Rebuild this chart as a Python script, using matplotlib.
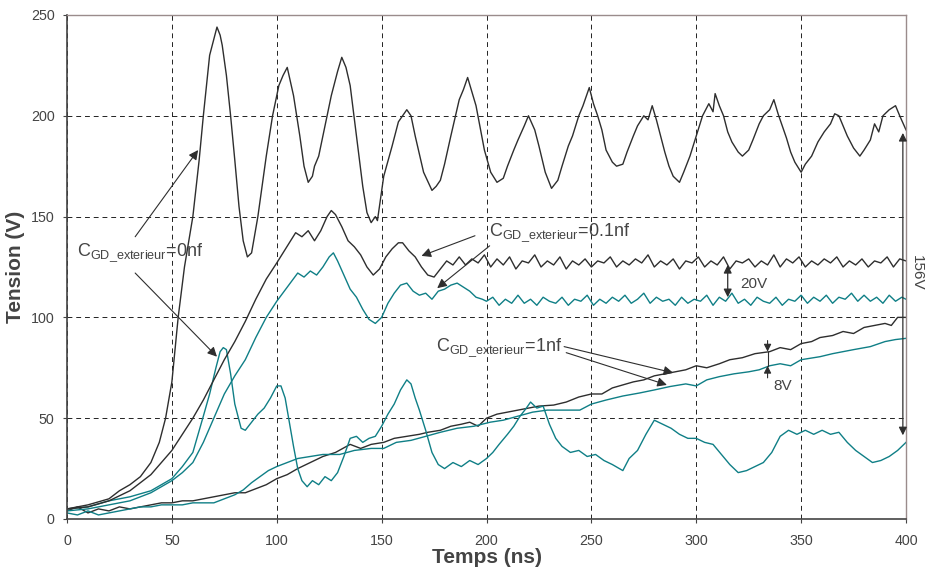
import numpy as np
import matplotlib
matplotlib.use("Agg")
import matplotlib.pyplot as plt

plt.rcParams['font.family'] = ['Liberation Sans', 'DejaVu Sans']
plt.rcParams['mathtext.default'] = 'regular'

# --- data (t in ns, V in volts) ---
black_0nf = [(0, 5), (10, 7), (20, 10), (25, 14), (30, 17), (35, 21), (40, 28), (44, 38), (47, 50),
             (50, 68), (53, 100), (56, 125), (60, 150), (63, 178), (65, 200), (68, 230), (70, 238),
             (71.5, 244), (73, 240), (74, 235), (76, 220), (78, 200), (80, 178), (82, 155), (84, 138),
             (86, 130), (88, 132), (91, 150), (93, 165), (95, 180), (98, 200), (101, 215), (103, 220),
             (105, 224), (108, 210), (111, 190), (113, 175), (115, 167), (117, 170), (118, 175),
             (120, 180), (122, 190), (126, 210), (129, 222), (131, 229), (133, 224), (135, 215),
             (138, 190), (141, 165), (143, 152), (145, 147), (147, 150), (148, 148), (151, 170),
             (155, 185), (158, 197), (162, 203), (164, 200), (166, 190), (170, 172), (174, 163),
             (176, 165), (178, 168), (180, 176), (183, 190), (187, 208), (189, 213), (191, 219),
             (193, 212), (195, 205), (199, 183), (202, 172), (205, 167), (208, 169), (210, 175),
             (213, 183), (215, 188), (218, 195), (220, 200), (223, 193), (225, 185), (228, 172),
             (231, 164), (234, 168), (236, 175), (239, 185), (241, 190), (244, 200), (246, 205),
             (249, 214), (251, 206), (253, 200), (255, 193), (257, 183), (260, 177), (262, 175),
             (265, 176), (267, 182), (270, 190), (272, 195), (275, 200), (277, 198), (279, 205),
             (281, 198), (283, 190), (285, 182), (287, 175), (289, 170), (292, 167), (294, 172),
             (297, 180), (300, 190), (303, 200), (306, 206), (308, 202), (309, 211), (311, 205),
             (313, 200), (315, 192), (317, 187), (320, 182), (322, 180), (325, 183), (327, 188),
             (330, 196), (332, 200), (335, 203), (337, 208), (339, 201), (341, 195), (343, 189),
             (345, 182), (347, 177), (350, 172), (352, 176), (355, 180), (358, 187), (361, 192),
             (364, 196), (366, 201), (368, 200), (370, 195), (372, 190), (375, 184), (378, 180),
             (380, 183), (383, 188), (385, 196), (387, 192), (389, 200), (392, 203), (395, 205),
             (397, 200), (400, 193)]

teal_0nf = [(0, 5), (10, 6), (20, 9), (30, 11), (40, 14), (50, 20), (55, 26), (60, 33), (65, 51),
            (68, 62), (71, 75), (73, 83), (74.5, 85), (76, 84), (78, 72), (80, 57), (83, 45),
            (85, 44), (88, 48), (91, 52), (94, 55), (97, 60), (100, 66), (102, 66), (104, 60),
            (106, 48), (108, 36), (110, 25), (112, 19), (114.5, 16), (117, 19), (120, 17),
            (123, 21), (126, 19), (129, 23), (132, 31), (135, 40), (138, 41), (141, 38), (144, 40),
            (147, 41), (150, 46), (153, 52), (156, 57), (159, 64), (162, 69), (164, 67), (166, 60),
            (168, 54), (171, 44), (174, 33), (177, 27), (180, 25), (184, 28), (188, 26), (192, 29),
            (196, 27), (200, 30), (203, 33), (206, 37), (210, 42), (213, 46), (216, 51), (219, 55),
            (221, 58), (224, 55), (227, 56), (230, 47), (233, 40), (236, 36), (240, 33), (244, 34),
            (248, 31), (252, 32), (256, 29), (260, 27), (265, 24), (268, 30), (272, 34), (276, 42),
            (280, 49), (284, 47), (288, 45), (292, 42), (296, 40), (300, 40), (304, 38), (308, 37),
            (312, 32), (316, 27), (320, 23), (324, 24), (328, 26), (332, 28), (336, 33), (340, 41),
            (344, 44), (348, 42), (352, 44), (356, 42), (360, 44), (364, 42), (368, 43), (372, 38),
            (376, 34), (380, 31), (384, 28), (388, 29), (392, 31), (396, 34), (400, 38)]

black_01nf = [(0, 5), (10, 6), (20, 9), (30, 14), (40, 22), (50, 34), (55, 42), (60, 50), (65, 59),
              (70, 69), (75, 79), (80, 88), (85, 98), (90, 109), (95, 119), (100, 127), (103, 132),
              (106, 137), (109, 142), (112, 140), (115, 143), (118, 138), (121, 143), (124, 150),
              (126, 153), (128, 151), (131, 145), (134, 138), (137, 135), (140, 131), (143, 125),
              (146, 121), (149, 124), (152, 130), (155, 134), (158, 137), (160, 137), (163, 133),
              (166, 130), (169, 125), (172, 121), (175, 120), (178, 124), (181, 128), (184, 126),
              (187, 130), (190, 126), (193, 129), (196, 127), (199, 131), (202, 125), (205, 129),
              (208, 126), (211, 130), (214, 124), (217, 128), (220, 127), (223, 131), (226, 125),
              (229, 128), (232, 126), (235, 130), (238, 124), (241, 128), (244, 126), (247, 129),
              (250, 125), (253, 128), (256, 127), (259, 130), (262, 125), (265, 128), (268, 126),
              (271, 129), (274, 127), (277, 131), (280, 125), (283, 128), (286, 126), (289, 129),
              (292, 124), (295, 128), (298, 127), (301, 130), (304, 125), (307, 128), (310, 126),
              (313, 130), (316, 124), (319, 128), (322, 127), (325, 129), (328, 125), (331, 128),
              (334, 126), (337, 131), (340, 125), (343, 129), (346, 127), (349, 130), (352, 125),
              (355, 128), (358, 126), (361, 129), (364, 127), (367, 130), (370, 125), (373, 128),
              (376, 126), (379, 129), (382, 125), (385, 128), (388, 127), (391, 130), (394, 125),
              (397, 129), (400, 128)]

teal_01nf = [(0, 4), (10, 5), (20, 7), (30, 9), (40, 13), (50, 19), (55, 23), (60, 28), (65, 38),
             (70, 50), (75, 62), (80, 71), (85, 79), (90, 90), (95, 100), (100, 108), (105, 115),
             (110, 122), (113, 120), (116, 123), (119, 121), (122, 125), (125, 130), (127, 132),
             (129, 128), (132, 121), (135, 114), (138, 110), (141, 104), (144, 99), (147, 97),
             (150, 100), (153, 107), (156, 112), (159, 116), (162, 117), (165, 113), (168, 111),
             (171, 112), (174, 109), (177, 113), (180, 114), (183, 116), (186, 117), (189, 115),
             (192, 113), (195, 110), (198, 109), (200, 108), (203, 110), (206, 106), (209, 109),
             (212, 107), (215, 111), (218, 107), (221, 109), (224, 106), (227, 110), (230, 108),
             (233, 107), (236, 110), (239, 106), (242, 109), (245, 108), (248, 111), (251, 106),
             (254, 109), (257, 107), (260, 110), (263, 108), (266, 111), (269, 107), (272, 109),
             (275, 112), (278, 107), (281, 110), (284, 108), (287, 109), (290, 106), (293, 110),
             (296, 107), (299, 109), (302, 108), (305, 111), (308, 106), (311, 110), (314, 108),
             (317, 112), (320, 107), (323, 109), (326, 106), (329, 110), (332, 108), (335, 107),
             (338, 110), (341, 106), (344, 109), (347, 108), (350, 111), (353, 107), (356, 110),
             (359, 108), (362, 111), (365, 107), (368, 110), (371, 109), (374, 112), (377, 108),
             (380, 111), (383, 108), (386, 110), (389, 107), (392, 111), (395, 108), (398, 110),
             (400, 109)]

black_1nf = [(0, 4), (5, 6), (10, 3), (15, 5), (20, 4), (25, 6), (30, 5), (35, 6), (40, 7), (45, 8),
             (50, 8), (55, 9), (60, 9), (65, 10), (70, 11), (75, 12), (80, 13), (85, 13), (90, 15),
             (95, 17), (100, 20), (105, 22), (110, 25), (116, 28), (122, 31), (128, 33), (135, 37),
             (140, 35), (145, 37), (151, 38), (156, 40), (162, 41), (168, 42), (172, 43), (178, 44),
             (183, 46), (188, 47), (192, 48), (196, 46), (200, 50), (205, 52), (210, 53), (215, 54),
             (220, 55), (225, 56), (232, 56.5), (238, 58), (244, 60.5), (250, 62), (255, 62),
             (260, 65), (265, 66.5), (270, 68), (275, 69), (280, 71), (285, 72), (290, 73), (295, 74),
             (300, 76), (305, 75), (311, 77), (316, 79), (322, 80), (328, 82), (335, 83), (340, 85),
             (345, 84), (350, 87), (355, 88), (359, 90), (365, 91), (370, 93), (375, 92), (380, 95),
             (385, 96), (390, 97), (393, 96), (396, 100), (400, 100)]

teal_1nf = [(0, 3), (5, 2), (10, 4), (15, 2), (20, 3), (25, 4), (30, 5), (35, 6), (40, 6), (45, 7),
            (50, 7), (55, 7), (60, 8), (65, 8), (70, 8), (75, 10), (80, 12), (84, 14.4), (88, 18),
            (92, 21), (96, 24), (100, 26), (105, 28), (110, 30), (116, 31), (122, 32), (130, 32),
            (137, 34), (145, 35), (151, 35), (157, 38), (164, 39), (170, 40.7), (178, 43), (186, 45),
            (194, 46), (201.7, 48), (208, 49), (215, 51), (222, 53), (229, 54), (237, 54),
            (244.5, 54), (250, 57), (257, 59), (265, 61), (273, 62.5), (280, 64), (287.5, 65.7),
            (295, 67), (300, 66), (305, 69), (311, 70.6), (318, 72), (325, 73), (330, 74), (335, 76),
            (340, 77), (345, 76), (350, 79), (359, 80.5), (365, 82), (370, 83), (375, 84),
            (383, 85.5), (390, 88), (395, 89), (400, 89.6)]

x_ticks = [0, 50, 100, 150, 200, 250, 300, 350, 400]
y_ticks = [0, 50, 100, 150, 200, 250]

BLACK = '#2e2e2e'
TEAL = '#0f7f86'
TXT = '#444444'

fig = plt.figure(figsize=(9.28, 5.72), dpi=100)
ax = fig.add_axes([0.0722, 0.0927, 0.9041, 0.8811])

for data, col in [(black_1nf, BLACK), (teal_1nf, TEAL), (teal_0nf, TEAL), (teal_01nf, TEAL),
                  (black_01nf, BLACK), (black_0nf, BLACK)]:
    t, v = zip(*data)
    ax.plot(t, v, color=col, lw=1.0)

ax.set_xlim(0, 400)
ax.set_ylim(0, 250)
ax.set_xticks(x_ticks)
ax.set_yticks(y_ticks)
ax.grid(True, color='#222222', linestyle=(0, (5, 4)), linewidth=0.7)
ax.tick_params(direction='out', length=3, labelsize=10.3, colors=TXT, pad=6)
ax.tick_params(axis='x', pad=8)
for s in ['left', 'bottom']:
    ax.spines[s].set_color('#444444')
    ax.spines[s].set_linewidth(1.2)
for s in ['top', 'right']:
    ax.spines[s].set_color('#9a8c8c')
    ax.spines[s].set_linewidth(1.0)

ax.set_xlabel('Temps (ns)', fontsize=15, fontweight='bold', color=TXT, labelpad=0)
ax.set_ylabel('Tension (V)', fontsize=15, fontweight='bold', color=TXT, labelpad=4)

lbl = r'C$_{\mathregular{GD\_exterieur}}$='
arr = dict(arrowstyle='-|>', color=BLACK, lw=0.8, mutation_scale=14, shrinkA=0, shrinkB=0)

# 0nf
ax.text(5, 132, lbl + '0nf', fontsize=13, color=TXT, va='center', ha='left')
ax.annotate('', xy=(62.5, 183), xytext=(32.5, 140), arrowprops=arr)
ax.annotate('', xy=(71.5, 80.5), xytext=(32.5, 122), arrowprops=arr)

# 0.1nf
ax.text(201, 142, lbl + '0.1nf', fontsize=13, color=TXT, va='center', ha='left')
ax.annotate('', xy=(169, 130.5), xytext=(194.5, 140.5), arrowprops=arr)
ax.annotate('', xy=(176.5, 114.5), xytext=(201.5, 135.5), arrowprops=arr)

# 1nf
ax.text(176, 85, lbl + '1nf', fontsize=13, color=TXT, va='center', ha='left')
ax.annotate('', xy=(289, 72.5), xytext=(237, 85.5), arrowprops=arr)
ax.annotate('', xy=(286, 66.5), xytext=(238, 82.5), arrowprops=arr)

# 20V
ax.annotate('', xy=(315, 110), xytext=(315, 126),
            arrowprops=dict(arrowstyle='<|-|>', color=BLACK, lw=0.9, mutation_scale=12, shrinkA=0, shrinkB=0))
ax.text(321, 116.5, '20V', fontsize=11, color=TXT, va='center', ha='left')

# 8V
ax.annotate('', xy=(334, 83), xytext=(334, 88.5), arrowprops=dict(arr, mutation_scale=11))
ax.annotate('', xy=(334, 76), xytext=(334, 70), arrowprops=dict(arr, mutation_scale=11))
ax.plot([334, 334], [76, 83], color=BLACK, lw=0.8)
ax.text(337, 66, '8V', fontsize=11, color=TXT, va='center', ha='left')

# 156V
ax.annotate('', xy=(398.5, 191.5), xytext=(398.5, 41.5),
            arrowprops=dict(arrowstyle='<|-|>', color=BLACK, lw=0.9, mutation_scale=12, shrinkA=0, shrinkB=0))
ax.text(405.3, 122, '156V', fontsize=11, color=TXT, va='center', ha='center', rotation=270,
        clip_on=False)

fig.savefig('out.png', dpi=100)
